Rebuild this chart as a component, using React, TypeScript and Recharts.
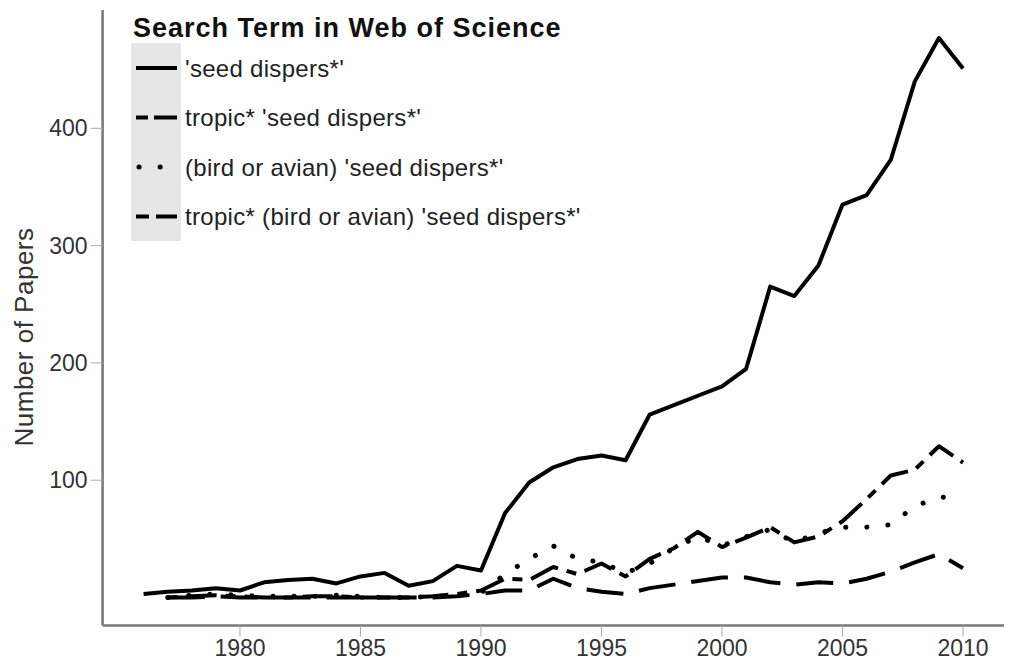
import React from "react";
import { LineChart, Line, XAxis, YAxis, Legend } from "recharts";

const years = [
  1976, 1977, 1978, 1979, 1980, 1981, 1982, 1983, 1984, 1985, 1986, 1987,
  1988, 1989, 1990, 1991, 1992, 1993, 1994, 1995, 1996, 1997, 1998, 1999,
  2000, 2001, 2002, 2003, 2004, 2005, 2006, 2007, 2008, 2009, 2010,
];

// 'seed dispers*'
const seedDispers = [
  3, 5, 6, 8, 6, 13, 15, 16, 12, 18, 21, 10, 14, 27, 23, 72, 98, 111, 118,
  121, 117, 156, 164, 172, 180, 195, 265, 257, 283, 335, 343, 373, 440, 477,
  451,
];

// tropic* 'seed dispers*'
const tropicSeed = [
  null, 0, 1, 2, 1, 0, 0, 1, 1, 0, 0, 0, 1, 3, 6, 16, 15, 26, 20, 29, 18, 33,
  42, 56, 43, 51, 60, 47, 52, 65, 84, 104, 109, 129, 115,
];

// (bird or avian) 'seed dispers*'
const birdSeed = [
  null, 0, 2, 3, 2, 1, 1, 1, 2, 1, 0, 0, 1, 2, 4, 20, 33, 44, 33, 30, 21, 29,
  42, 52, 44, 52, 58, 47, 55, 60, 60, 62, 78, 85, 88,
];

// tropic* (bird or avian) 'seed dispers*'
const tropicBirdSeed = [
  null, 0, 0, 1, 0, 0, 0, 0, 0, 0, 0, 0, 0, 1, 3, 6, 6, 16, 8, 5, 3, 8, 11,
  14, 17, 17, 13, 11, 13, 12, 16, 22, 30, 37, 25,
];

const xTicks = [1980, 1985, 1990, 1995, 2000, 2005, 2010];
const yTicks = [100, 200, 300, 400];

const seriesNames = [
  "'seed dispers*'",
  "tropic* 'seed dispers*'",
  "(bird or avian) 'seed dispers*'",
  "tropic* (bird or avian) 'seed dispers*'",
];

const data = years.map((year, i) => ({
  year,
  seed: seedDispers[i],
  tropic: tropicSeed[i],
  bird: birdSeed[i],
  tropicBird: tropicBirdSeed[i],
}));

const FONT = "'Liberation Sans', Arial, Helvetica, sans-serif";

const lineStyles = [
  { key: "seed", dash: undefined, keyDash: undefined, cap: "butt", w: 4 },
  { key: "tropic", dash: "10 9 30 9", keyDash: "12 6 30", cap: "butt", w: 4 },
  { key: "bird", dash: "0.1 21", keyDash: "0.1 21", cap: "round", w: 5 },
  { key: "tropicBird", dash: "37 16", keyDash: "13 7 30", cap: "butt", w: 4 },
];

const LegendBox = () => (
  <svg width={470} height={245} style={{ display: "block" }}>
    <text
      x={2}
      y={28}
      dominantBaseline="central"
      fontFamily={FONT}
      fontWeight="bold"
      fontSize={27}
      letterSpacing={1}
      fill="#111"
    >
      Search Term in Web of Science
    </text>
    <rect x={0} y={43} width={50} height={198} fill="#e6e6e6" />
    {seriesNames.map((name, i) => {
      const cy = 68 + i * 49.5;
      const s = lineStyles[i];
      return (
        <g key={name}>
          <line
            x1={s.cap === "round" ? 8 : 5}
            x2={46}
            y1={cy}
            y2={cy}
            stroke="#000"
            strokeWidth={s.w}
            strokeDasharray={s.keyDash}
            strokeLinecap={s.cap as any}
          />
          <text
            x={54}
            y={cy}
            dominantBaseline="central"
            fontFamily={FONT}
            fontSize={24}
            letterSpacing={0.3}
            fill="#222"
          >
            {name}
          </text>
        </g>
      );
    })}
  </svg>
);

const YLabel = () => (
  <text
    x={24}
    y={337}
    transform="rotate(-90 24 337)"
    textAnchor="middle"
    dominantBaseline="central"
    fontFamily={FONT}
    fontSize={26}
    letterSpacing={0.5}
    fill="#333"
  >
    Number of Papers
  </text>
);

const tickStyle = { fontSize: 23, fontFamily: FONT, fill: "#333" };

const App: React.FC = () => {
  return (
    <div style={{ position: "absolute", left: 0, top: 0, background: "#fff" }}>
      <LineChart
        width={1009}
        height={661}
        data={data}
        margin={{ top: 10, right: 5, left: 0, bottom: 0 }}
      >
        <XAxis
          dataKey="year"
          type="number"
          domain={[1974.3, 2011.7]}
          ticks={xTicks}
          height={35.5}
          tick={tickStyle}
          tickSize={11}
          tickMargin={3}
          axisLine={{ stroke: "#777", strokeWidth: 2.5 }}
          tickLine={{ stroke: "#aaa", strokeWidth: 1 }}
          allowDataOverflow
        />
        <YAxis
          type="number"
          domain={[-23.85, 500.85]}
          ticks={yTicks}
          width={102.6}
          tick={tickStyle}
          tickSize={12}
          tickMargin={3}
          axisLine={{ stroke: "#777", strokeWidth: 2.5 }}
          tickLine={{ stroke: "#aaa", strokeWidth: 1 }}
          allowDataOverflow
          label={<YLabel />}
        />
        <Legend
          layout="vertical"
          align="center"
          verticalAlign="middle"
          content={() => <LegendBox />}
          wrapperStyle={{ left: 131, top: 0, width: 470, height: 245 }}
        />
        {lineStyles.map((s, i) => (
          <Line
            key={s.key}
            dataKey={s.key}
            name={seriesNames[i]}
            type="linear"
            stroke="#000"
            strokeWidth={s.w}
            strokeDasharray={s.dash}
            strokeLinecap={s.cap as any}
            strokeLinejoin="round"
            dot={false}
            activeDot={false}
            isAnimationActive={false}
          />
        ))}
      </LineChart>
    </div>
  );
};

export default App;
